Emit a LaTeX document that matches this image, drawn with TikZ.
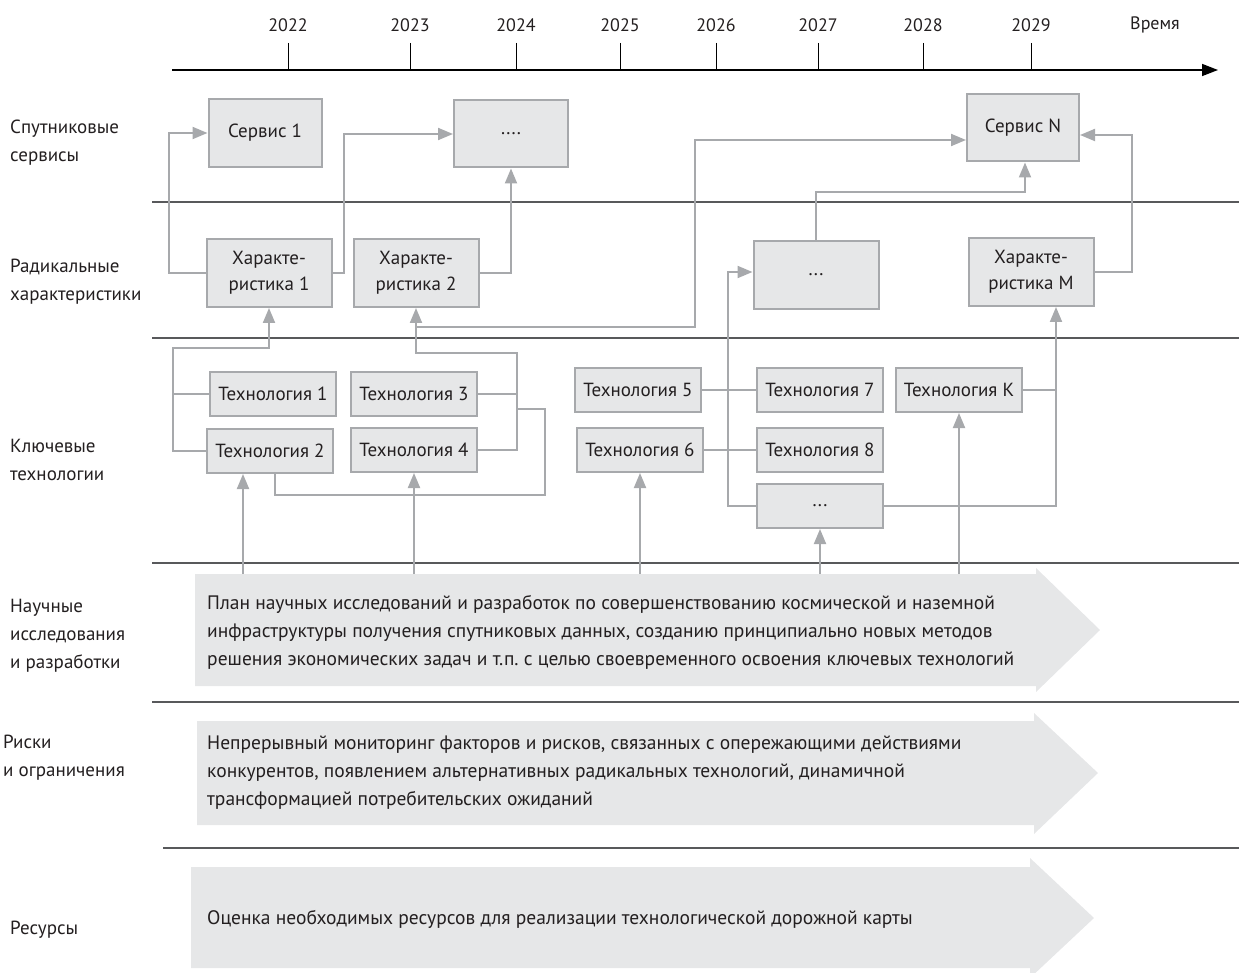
\documentclass[tikz,border=0pt]{standalone}
\usepackage{fontspec}
\setmainfont{PT Sans}
\usetikzlibrary{arrows.meta}

\definecolor{boxfill}{HTML}{E6E7E8}
\definecolor{boxline}{HTML}{A7A9AC}
\definecolor{rulegray}{HTML}{58595B}
\definecolor{ink}{HTML}{231F20}

\tikzset{
  box/.style={draw=boxline, fill=boxfill, line width=2pt, inner sep=0pt, align=center, text=ink,
    font=\fontsize{19}{26}\selectfont},
  techbox/.style={box, minimum width=126pt, minimum height=44pt},
  charbox/.style={box, minimum width=125pt, minimum height=68pt},
  conn/.style={draw=boxline, line width=2pt},
  arr/.style={conn, -{Triangle[length=15pt,width=12pt]}},
  divider/.style={draw=rulegray, line width=1.6pt},
  rowlabel/.style={anchor=west, align=left, text=ink, inner sep=0pt, font=\fontsize{19}{28}\selectfont},
  bandtext/.style={rowlabel, font=\fontsize{19.5}{28}\selectfont},
  band/.style={fill=boxfill}
}

\begin{document}
\frenchspacing
\begin{tikzpicture}[x=1pt,y=-1pt,font=\fontsize{18}{27}\selectfont]
  \useasboundingbox (0,0) rectangle (1239,973);

  % time axis
  \draw[black, line width=1.6pt, -{Triangle[length=16pt,width=12pt]}] (172,70) -- (1218,70);
  \foreach \yr/\x in {2022/288,2023/410,2024/516,2025/620,2026/716,2027/818,2028/923,2029/1031} {
    \draw[black, line width=0.8pt] (\x,43) -- (\x,70);
    \node[text=ink] (y\yr) at (\x,25) {\yr};
  }
  \node[text=ink] (time) at (1155,25) {Время};

  % row dividers
  \draw[divider] (152,202) -- (1239,202);
  \draw[divider] (152,338) -- (1239,338);
  \draw[divider] (152,563) -- (1239,563);
  \draw[divider] (152,702) -- (1239,702);
  \draw[divider] (163,848) -- (1239,848);

  % row labels
  \node[rowlabel] (lblsrv) at (10,143) {Спутниковые\\сервисы};
  \node[rowlabel] (lblchar) at (10,282) {Радикальные\\характеристики};
  \node[rowlabel] (lbltech) at (10,460) {Ключевые\\технологии};
  \node[rowlabel] (lblrd) at (10,636) {Научные\\исследования\\и разработки};
  \node[rowlabel] (lblrisk) at (3,758) {Риски\\и ограничения};
  \node[rowlabel] (lblres) at (10,930) {Ресурсы};

  % services
  \node[box, minimum width=113pt, minimum height=68pt] (srv1) at (265,133) {Сервис 1};
  \node[box, minimum width=114pt, minimum height=67pt] (srvdots) at (511,134) {....};
  \node[box, minimum width=112pt, minimum height=67pt] (srvN) at (1023,128) {Сервис N};

  % radical characteristics
  \node[charbox] (char1) at (269,273) {Характе-\\ристика 1};
  \node[charbox] (char2) at (416,273) {Характе-\\ристика 2};
  \node[charbox] (chardots) at (816,275) {...};
  \node[charbox] (charM) at (1031,272) {Характе-\\ристика M};

  % key technologies
  \node[techbox] (tech1) at (273,394) {Технология 1};
  \node[techbox] (tech2) at (270,451) {Технология 2};
  \node[techbox] (tech3) at (414,394) {Технология 3};
  \node[techbox] (tech4) at (414,450) {Технология 4};
  \node[techbox] (tech5) at (638,390) {Технология 5};
  \node[techbox] (tech6) at (640,450) {Технология 6};
  \node[techbox] (tech7) at (820,390) {Технология 7};
  \node[techbox] (tech8) at (820,450) {Технология 8};
  \node[techbox] (techdots) at (820,506) {...};
  \node[techbox] (techK) at (959,390) {Технология K};

  % characteristics -> services
  \draw[arr] (char1.west) -- (169,273) |- (srv1.west);
  \draw[arr] (char1.east) -- (344,273) |- (srvdots.west);
  \draw[arr] (char2.east) -| (srvdots.south);
  \draw[arr] (chardots.north) -- ++(0,-48) -| ([xshift=2pt]srvN.south);
  \draw[arr] (charM.east) -- (1132,272) |- ([yshift=-7pt]srvN.east);
  \draw[arr] (char2.south |- 0,327) -- (695,327) |- ([yshift=-12pt]srvN.west);

  % technologies -> characteristics
  \draw[conn] (tech1.west) -- (173,394);
  \draw[arr] (tech2.west) -- (173,451) -- (173,348) -| (char1.south);
  \draw[conn] (tech3.east) -- (517,394);
  \draw[arr] (tech4.east) -- (517,450) -- (517,353) -| (char2.south);
  \draw[conn] ([xshift=5pt]tech2.south) |- (545,495) |- (517,409);
  \draw[conn] (tech5.east) -- (tech7.west);
  \draw[conn] (tech6.east) -- (tech8.west);
  \draw[arr] (techdots.west) -- (728,506) |- ([yshift=3pt]chardots.west);
  \draw[conn] (techK.east) -- (1056,390);
  \draw[arr] (techdots.east) -| ([xshift=25pt]charM.south);

  % bands
  \fill[band] (195,574) -- (1036,574) -- (1036,568) -- (1100,630) -- (1036,692) -- (1036,686) -- (195,686) -- cycle;
  \fill[band] (197,721) -- (1034,721) -- (1034,713) -- (1098,773) -- (1034,834) -- (1034,825) -- (197,825) -- cycle;
  \fill[band] (191,867) -- (1030,867) -- (1030,858) -- (1094,918) -- (1030,978) -- (1030,968) -- (191,968) -- cycle;
  \coordinate (plantop) at (0,574);
  \node[bandtext] (plan) at (207,632) {План научных исследований и разработок по совершенствованию космической и наземной\\инфраструктуры получения спутниковых данных, созданию принципиально новых методов\\решения экономических задач и т.п. с целью своевременного освоения ключевых технологий};
  \node[bandtext] (risk) at (207,773) {Непрерывный мониторинг факторов и рисков, связанных с опережающими действиями\\конкурентов, появлением альтернативных радикальных технологий, динамичной\\трансформацией потребительских ожиданий};
  \node[bandtext] (res) at (207,919) {Оценка необходимых ресурсов для реализации технологической дорожной карты};

  % research -> technologies
  \draw[arr] ([xshift=-27pt]tech2.south |- plantop) -- ([xshift=-27pt]tech2.south);
  \foreach \n in {tech4,tech6,techdots,techK}
    \draw[arr] (\n.south |- plantop) -- (\n.south);
\end{tikzpicture}
\end{document}
